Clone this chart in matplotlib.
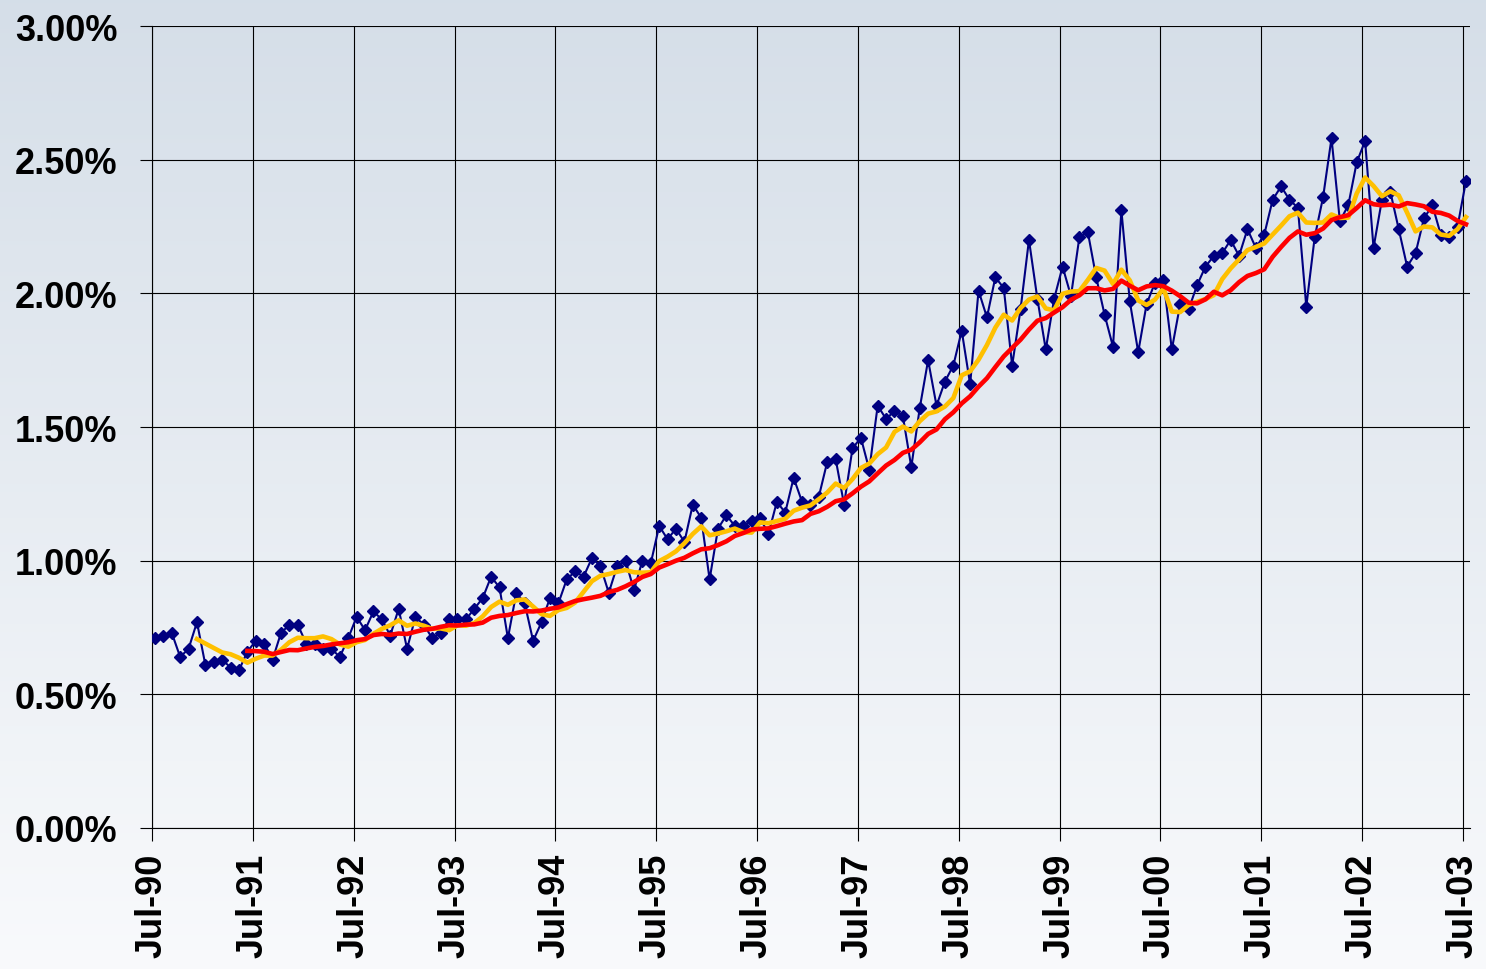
import numpy as np
import pandas as pd
import matplotlib
matplotlib.use('Agg')
import matplotlib.pyplot as plt
from matplotlib.ticker import FormatStrFormatter

# monthly values, Jul-90 .. Jul-03 (percent)
rate = [
    0.71, 0.72, 0.73, 0.64, 0.67, 0.77,                                  # 1990 Jul-Dec
    0.61, 0.62, 0.63, 0.60, 0.59, 0.66, 0.70, 0.69, 0.63, 0.73, 0.76, 0.76,  # 1991
    0.69, 0.69, 0.67, 0.67, 0.64, 0.71, 0.79, 0.74, 0.81, 0.78, 0.72, 0.82,  # 1992
    0.67, 0.79, 0.76, 0.71, 0.73, 0.78, 0.78, 0.78, 0.82, 0.86, 0.94, 0.90,  # 1993
    0.71, 0.88, 0.84, 0.70, 0.77, 0.86, 0.84, 0.93, 0.96, 0.94, 1.01, 0.98,  # 1994
    0.88, 0.98, 1.00, 0.89, 1.00, 0.99, 1.13, 1.08, 1.12, 1.07, 1.21, 1.16,  # 1995
    0.93, 1.12, 1.17, 1.13, 1.13, 1.15, 1.16, 1.10, 1.22, 1.18, 1.31, 1.22,  # 1996
    1.21, 1.24, 1.37, 1.38, 1.21, 1.42, 1.46, 1.34, 1.58, 1.53, 1.56, 1.54,  # 1997
    1.35, 1.57, 1.75, 1.58, 1.67, 1.73, 1.86, 1.66, 2.01, 1.91, 2.06, 2.02,  # 1998
    1.73, 1.94, 2.20, 1.98, 1.79, 1.98, 2.10, 1.99, 2.21, 2.23, 2.06, 1.92,  # 1999
    1.80, 2.31, 1.97, 1.78, 1.96, 2.04, 2.05, 1.79, 1.96, 1.94, 2.03, 2.10,  # 2000
    2.14, 2.15, 2.20, 2.14, 2.24, 2.17, 2.22, 2.35, 2.40, 2.35, 2.32, 1.95,  # 2001
    2.21, 2.36, 2.58, 2.27, 2.33, 2.49, 2.57, 2.17, 2.35, 2.38, 2.24, 2.10,  # 2002
    2.15, 2.28, 2.33, 2.22, 2.21, 2.25, 2.42,                            # 2003 Jan-Jul
]
tick_labels = ['Jul-90', 'Jul-91', 'Jul-92', 'Jul-93', 'Jul-94', 'Jul-95', 'Jul-96',
               'Jul-97', 'Jul-98', 'Jul-99', 'Jul-00', 'Jul-01', 'Jul-02', 'Jul-03']
y_ticks = [0.0, 0.5, 1.0, 1.5, 2.0, 2.5, 3.0]

s = pd.Series(rate)
ma6 = s.rolling(6).mean()    # 6-month moving average (yellow)
ma12 = s.rolling(12).mean()  # 12-month moving average (red)
x = np.arange(len(s)) + 0.35

plt.rcParams['font.family'] = ['Liberation Sans', 'DejaVu Sans']

fig = plt.figure(figsize=(14.86, 9.70), dpi=100)

# background gradient over the whole figure
bg = fig.add_axes([0, 0, 1, 1], zorder=-10)
grad = np.linspace(0, 1, 256).reshape(-1, 1)
top = np.array([0.835, 0.871, 0.910])
bot = np.array([0.975, 0.980, 0.988])
img = top[None, None, :] * (1 - grad[:, :, None]) + bot[None, None, :] * grad[:, :, None]
bg.imshow(img, aspect='auto', extent=[0, 1, 0, 1])
bg.axis('off')

ax = fig.add_axes([152 / 1486, 1 - 829 / 970, (1470 - 152) / 1486, (829 - 27) / 970])
ax.set_facecolor('none')

ax.plot(x, s, color='#000080', lw=1.5, marker='D', ms=6.5, zorder=3)
ax.plot(x, ma6, color='#FFC000', lw=3.3, zorder=4)
ax.plot(x, ma12, color='#FF0000', lw=3.3, zorder=5)

ax.set_xlim(0, 156.83)
ax.set_ylim(0, 3.0)
ax.set_xticks(np.arange(0, 157, 12))
ax.set_xticklabels(tick_labels, rotation=90, fontsize=26, fontweight='bold')
ax.set_yticks(y_ticks)
ax.yaxis.set_major_formatter(FormatStrFormatter('%.2f%%'))
for lab in ax.get_yticklabels():
    lab.set_fontsize(26)
    lab.set_fontweight('bold')

ax.grid(True, color='black', lw=0.8, zorder=1)
ax.tick_params(axis='both', direction='out', length=9, width=0.8, color='black')
ax.tick_params(axis='y', pad=16)
ax.tick_params(axis='x', pad=9)
for sp in ['top', 'right']:
    ax.spines[sp].set_visible(False)
for sp in ['left', 'bottom']:
    ax.spines[sp].set_linewidth(0.8)

fig.savefig('out.png', dpi=100)
